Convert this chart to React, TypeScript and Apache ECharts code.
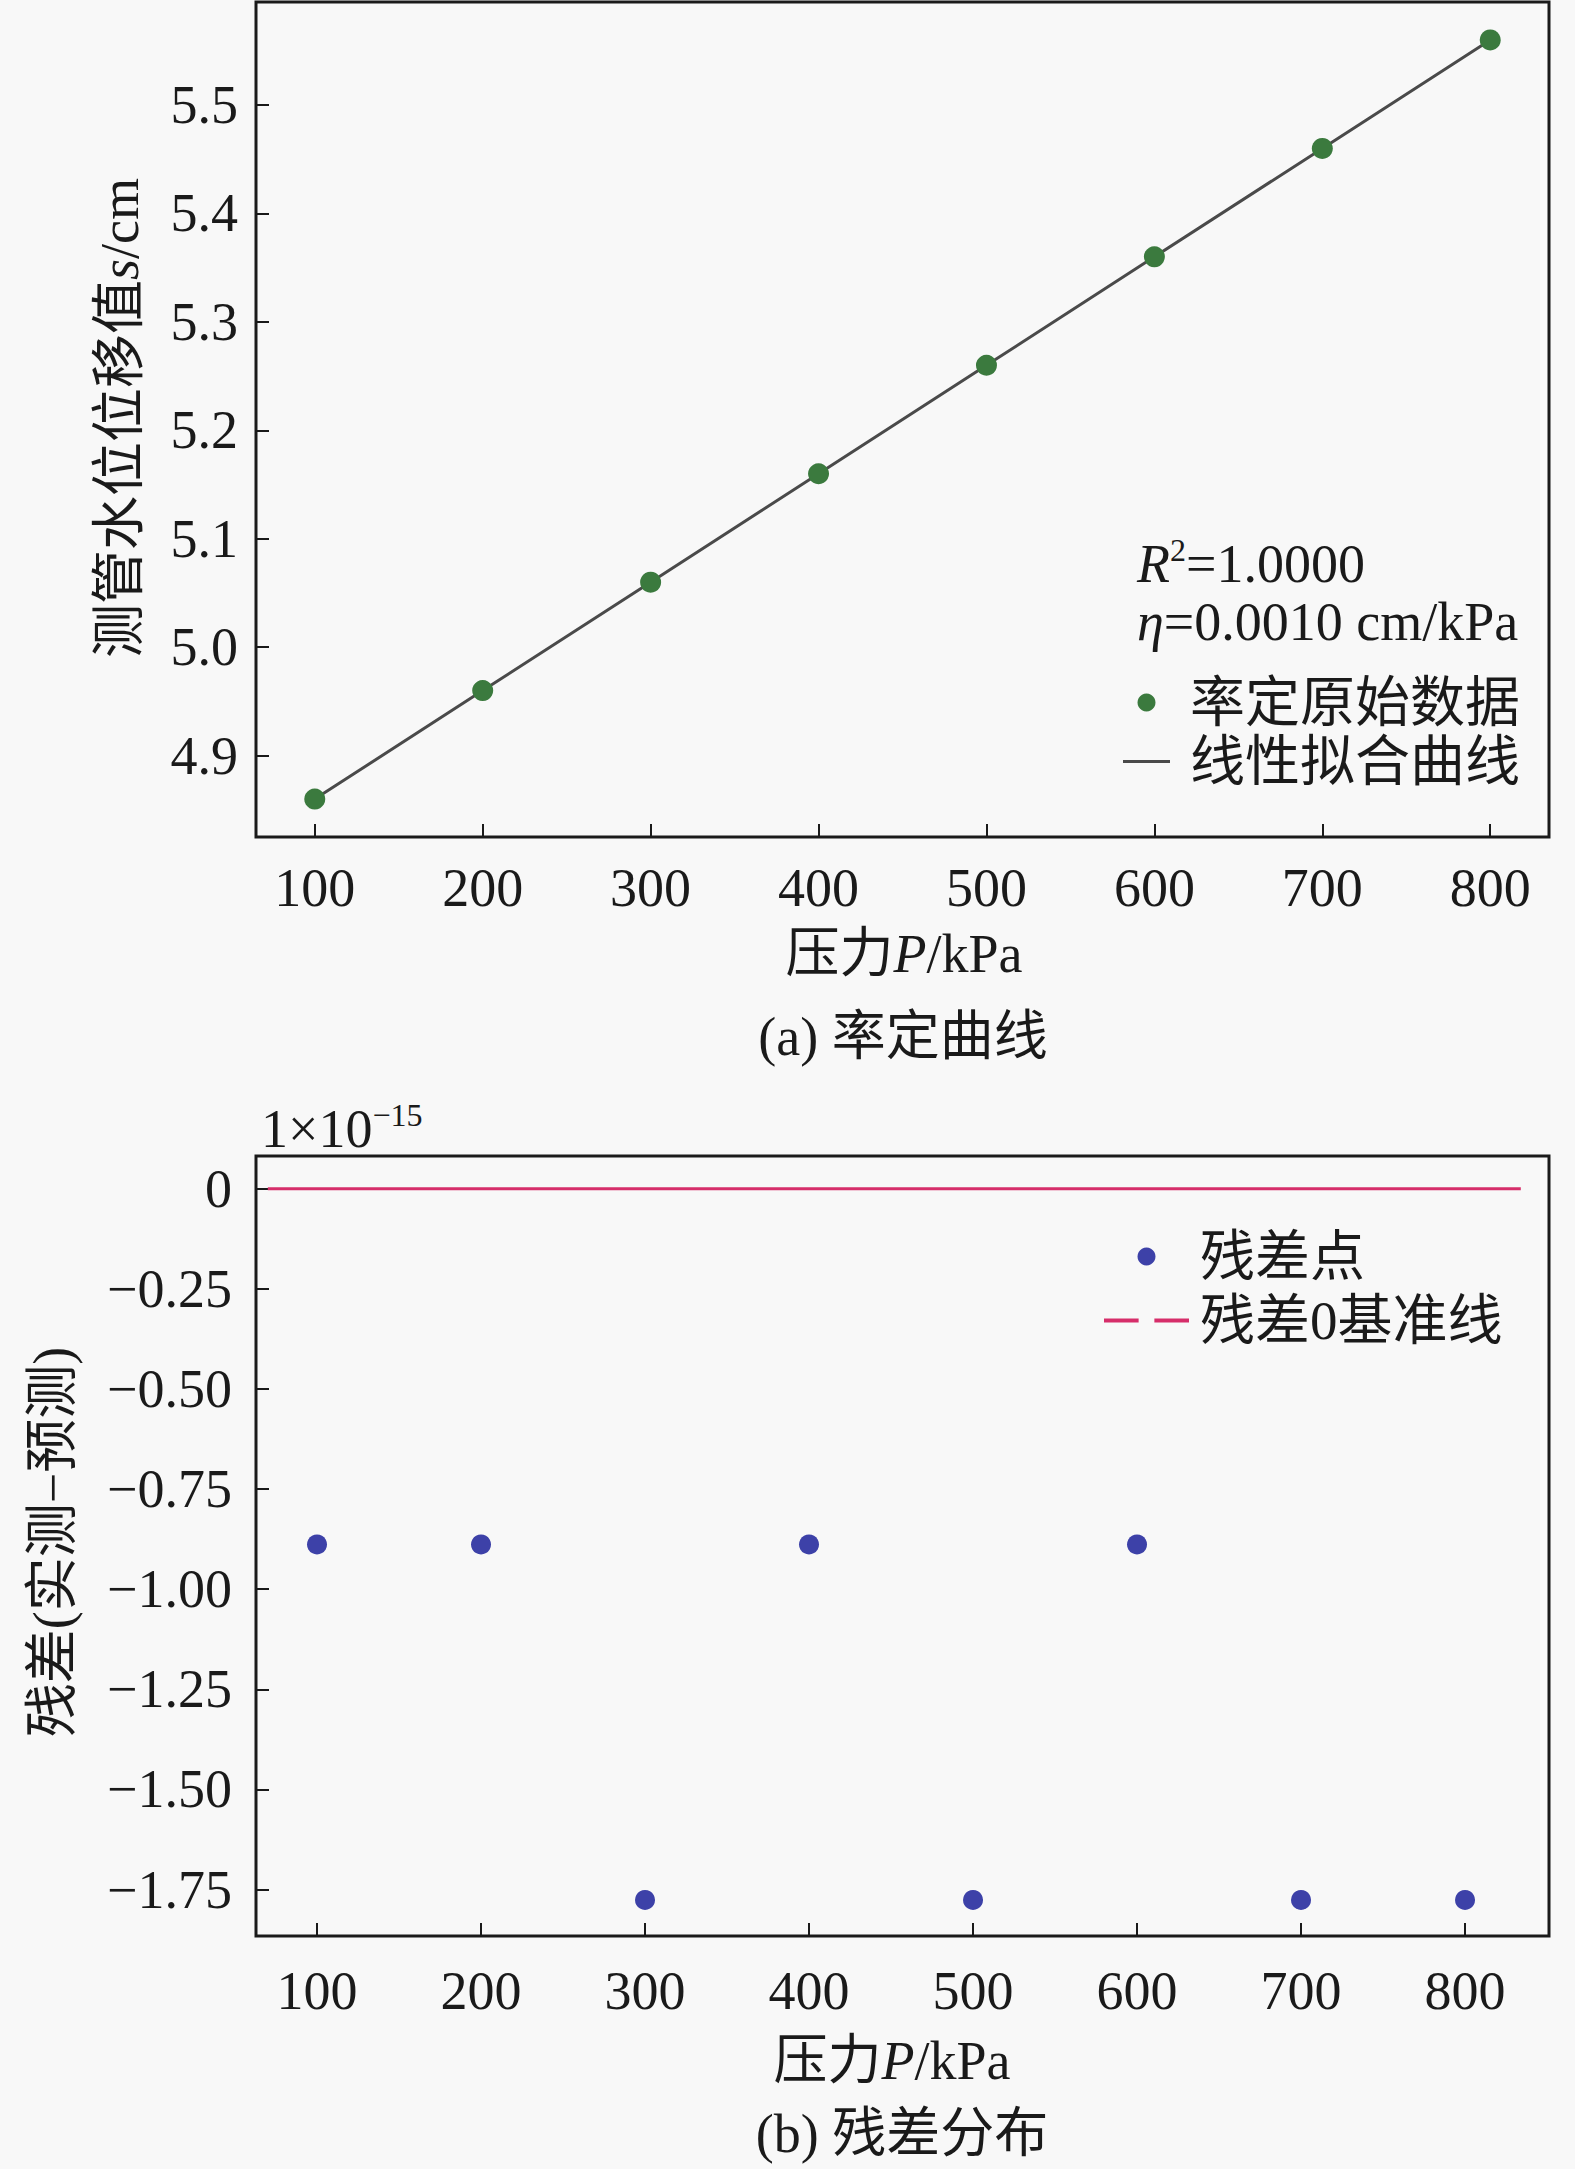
import React, { useEffect, useRef } from "react";
import * as echarts from "echarts";

const pressures = [100, 200, 300, 400, 500, 600, 700, 800];
const displacement = [4.86, 4.96, 5.06, 5.16, 5.26, 5.36, 5.46, 5.56];
const fitLine = [4.86, 4.96, 5.06, 5.16, 5.26, 5.36, 5.46, 5.56];
// residuals in units of 1e-15
const residuals = [-0.888, -0.888, -1.776, -0.888, -1.776, -0.888, -1.776, -1.776];
const zeroLineX = [70, 834];
const zeroLineY = [0, 0];

const xTicks = [100, 200, 300, 400, 500, 600, 700, 800];
const yTicksTop = [4.9, 5.0, 5.1, 5.2, 5.3, 5.4, 5.5];
const yTicksBottom = [0, -0.25, -0.5, -0.75, -1.0, -1.25, -1.5, -1.75];

const FONT = '"Liberation Serif", "Times New Roman", "Noto Sans CJK SC", serif';
const TXT = "#1a1a1a";
const FS = 54;

export default function App() {
  const ref = useRef<HTMLDivElement>(null);
  useEffect(() => {
    if (!ref.current) return;
    const chart = echarts.init(ref.current, null, { renderer: "svg" });

    const axisCommon = (ticks: number[], fmt: (v: number) => string, margin: number) => ({
      axisLine: { show: false, onZero: false },
      splitLine: { show: false },
      axisTick: {
        show: true,
        inside: true,
        length: 13,
        lineStyle: { color: TXT, width: 2 },
        customValues: ticks,
      },
      axisLabel: {
        show: true,
        customValues: ticks,
        formatter: (v: number) => fmt(v),
        fontFamily: FONT,
        fontSize: FS,
        color: TXT,
        margin,
      },
    });

    const fmtX = (v: number) => String(Math.round(v));
    const fmtYTop = (v: number) => v.toFixed(1);
    const fmtYBottom = (v: number) => (Math.abs(v) < 1e-9 ? "0" : "\u2212" + Math.abs(v).toFixed(2));

    const richBase = {
      n: { fontFamily: FONT, fontSize: FS, fill: TXT, lineHeight: 60 },
      i: { fontFamily: FONT, fontSize: FS, fill: TXT, fontStyle: "italic", lineHeight: 60 },
      sup: { fontFamily: FONT, fontSize: 32, fill: TXT, lineHeight: 32, verticalAlign: "top" },
    };

    const txt = (text: string, x: number, y: number, align: string, rot = 0) => ({
      type: "text",
      x,
      y,
      rotation: rot,
      style: {
        text,
        rich: richBase,
        align,
        verticalAlign: "middle",
        fontFamily: FONT,
        fontSize: FS,
        fill: TXT,
      },
    });

    chart.setOption({
      animation: false,
      backgroundColor: "#f8f8f8",
      grid: [
        { left: 256, top: 2, width: 1293, height: 835, show: true, borderColor: TXT, borderWidth: 3, backgroundColor: "transparent" },
        { left: 256, top: 1156, width: 1293, height: 780, show: true, borderColor: TXT, borderWidth: 3, backgroundColor: "transparent" },
      ],
      xAxis: [
        { type: "value", gridIndex: 0, min: 65, max: 835, ...axisCommon(xTicks, fmtX, 24) },
        { type: "value", gridIndex: 1, min: 62.8, max: 851.2, ...axisCommon(xTicks, fmtX, 28) },
      ],
      yAxis: [
        { type: "value", gridIndex: 0, min: 4.825, max: 5.595, ...axisCommon(yTicksTop, fmtYTop, 18) },
        { type: "value", gridIndex: 1, min: -1.866, max: 0.082, ...axisCommon(yTicksBottom, fmtYBottom, 24) },
      ],
      legend: [
        {
          orient: "vertical",
          left: 1123,
          top: 675,
          padding: 0,
          itemWidth: 47,
          itemHeight: 18,
          itemGap: 4,
          textStyle: { fontFamily: FONT, fontSize: 55, color: TXT, lineHeight: 55, padding: [0, 0, 0, 15] },
          data: [
            { name: "率定原始数据", icon: "circle" },
            { name: "线性拟合曲线", icon: "path://M0,0h100v6h-100z" },
          ],
        },
        {
          orient: "vertical",
          left: 1104,
          top: 1229,
          padding: 0,
          itemWidth: 85,
          itemHeight: 18,
          itemGap: 9,
          textStyle: { fontFamily: FONT, fontSize: 55, color: TXT, lineHeight: 55, padding: [0, 0, 0, 6] },
          data: [
            { name: "残差点", icon: "circle" },
            { name: "残差0基准线", icon: "path://M0,0h33v4h-33zM48,0h33v4h-33z" },
          ],
        },
      ],
      series: [
        {
          name: "线性拟合曲线",
          type: "line",
          xAxisIndex: 0,
          yAxisIndex: 0,
          data: pressures.map((p, i) => [p, fitLine[i]]),
          symbol: "none",
          lineStyle: { color: "#4a4a4a", width: 3 },
          itemStyle: { color: "#4a4a4a" },
          z: 2,
        },
        {
          name: "率定原始数据",
          type: "scatter",
          xAxisIndex: 0,
          yAxisIndex: 0,
          data: pressures.map((p, i) => [p, displacement[i]]),
          symbolSize: 21,
          itemStyle: { color: "#3b7a3e", opacity: 1 },
          z: 3,
        },
        {
          name: "残差0基准线",
          type: "line",
          xAxisIndex: 1,
          yAxisIndex: 1,
          data: zeroLineX.map((x, i) => [x, zeroLineY[i]]),
          symbol: "none",
          lineStyle: { color: "#d62e6a", width: 3 },
          itemStyle: { color: "#d62e6a" },
          z: 2,
        },
        {
          name: "残差点",
          type: "scatter",
          xAxisIndex: 1,
          yAxisIndex: 1,
          data: pressures.map((p, i) => [p, residuals[i]]),
          symbolSize: 20,
          itemStyle: { color: "#3d41a8", opacity: 1 },
          z: 3,
        },
      ],
      graphic: [
        txt("{i|R}{sup|2}{n|=1.0000}", 1137, 564, "left"),
        txt("{i|η}{n|=0.0010 cm/kPa}", 1137, 622, "left"),
        txt("{n|测管水位位移值}{i|s}{n|/cm}", 120, 418, "center", Math.PI / 2),
        txt("{n|压力}{i|P}{n|/kPa}", 904, 954, "center"),
        txt("{n|(a) 率定曲线}", 903, 1037, "center"),
        txt("{n|1×10}{sup|\u221215}", 261, 1129, "left"),
        txt("{n|残差(实测\u2212预测)}", 53, 1542, "center", Math.PI / 2),
        txt("{n|压力}{i|P}{n|/kPa}", 892, 2061, "center"),
        txt("{n|(b) 残差分布}", 902, 2134, "center"),
      ],
    });

    return () => chart.dispose();
  }, []);

  return (
    <div style={{ position: "absolute", left: 0, top: 0, width: 1575, height: 2169, background: "#f8f8f8" }}>
      <div ref={ref} style={{ width: 1575, height: 2169 }} />
    </div>
  );
}
